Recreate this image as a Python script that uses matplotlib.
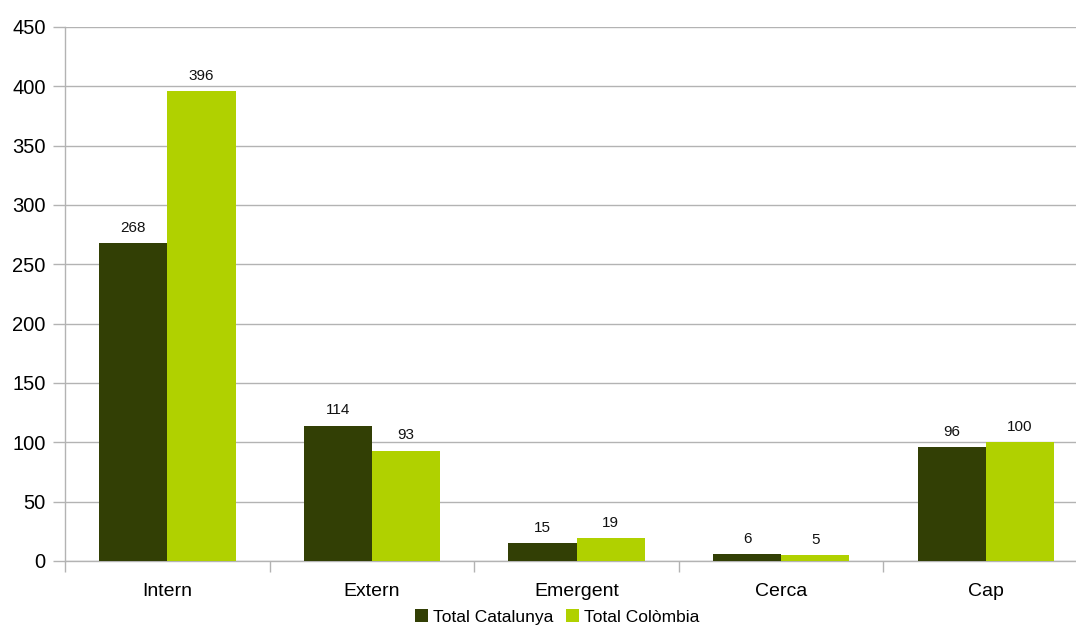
import matplotlib
matplotlib.use("Agg")
import matplotlib.pyplot as plt
import numpy as np

plt.rcParams['font.family'] = ['Liberation Sans', 'DejaVu Sans']

categories = ["Intern", "Extern", "Emergent", "Cerca", "Cap"]
catalunya = [268, 114, 15, 6, 96]
colombia = [396, 93, 19, 5, 100]
series_names = ["Total Catalunya", "Total Colòmbia"]
colors = ["#323f05", "#b0d100"]
y_ticks = [0, 50, 100, 150, 200, 250, 300, 350, 400, 450]

W, H = 1076, 626
fig = plt.figure(figsize=(W / 100, H / 100), dpi=100)
ax = fig.add_axes([65 / W, 1 - 561 / H, (1088 - 65) / W, (561 - 27) / H])

x = np.arange(len(categories))
bw = 1 / 3
b1 = ax.bar(x - bw / 2, catalunya, bw, color=colors[0], label=series_names[0], zorder=3)
b2 = ax.bar(x + bw / 2, colombia, bw, color=colors[1], label=series_names[1], zorder=3)

for bars, vals in ((b1, catalunya), (b2, colombia)):
    for rect, v in zip(bars, vals):
        ax.annotate(str(v), (rect.get_x() + rect.get_width() / 2, v),
                    xytext=(0, 6), textcoords="offset points",
                    ha="center", va="bottom", fontsize=11, color="#111111")

ax.set_xlim(-0.5, len(categories) - 0.5)
ax.set_ylim(0, 450)
ax.set_yticks(y_ticks)
ax.yaxis.grid(True, color="#b3b3b3", linewidth=1, zorder=0)
ax.set_axisbelow(True)

ax.set_xticks(x)
ax.set_xticklabels(categories, fontsize=14)
ax.set_xticks(np.arange(len(categories) + 1) - 0.5, minor=True)
ax.tick_params(axis="x", which="major", length=0, pad=16)
ax.tick_params(axis="x", which="minor", length=8, width=1, color="#b3b3b3", direction="out")
ax.tick_params(axis="y", length=9, width=1, color="#b3b3b3", direction="out", labelsize=14.5, pad=5)

for side in ("top", "right"):
    ax.spines[side].set_visible(False)
for side in ("left", "bottom"):
    ax.spines[side].set_color("#b3b3b3")
    ax.spines[side].set_linewidth(1)

fig.legend(handles=[b1, b2], labels=series_names, loc="center", bbox_to_anchor=(557 / W, 1 - 617 / H),
           ncol=2, frameon=False, fontsize=12.5, handlelength=0.75, handleheight=0.75,
           handletextpad=0.3, columnspacing=0.7, borderpad=0)

fig.savefig("out.png", dpi=100)
